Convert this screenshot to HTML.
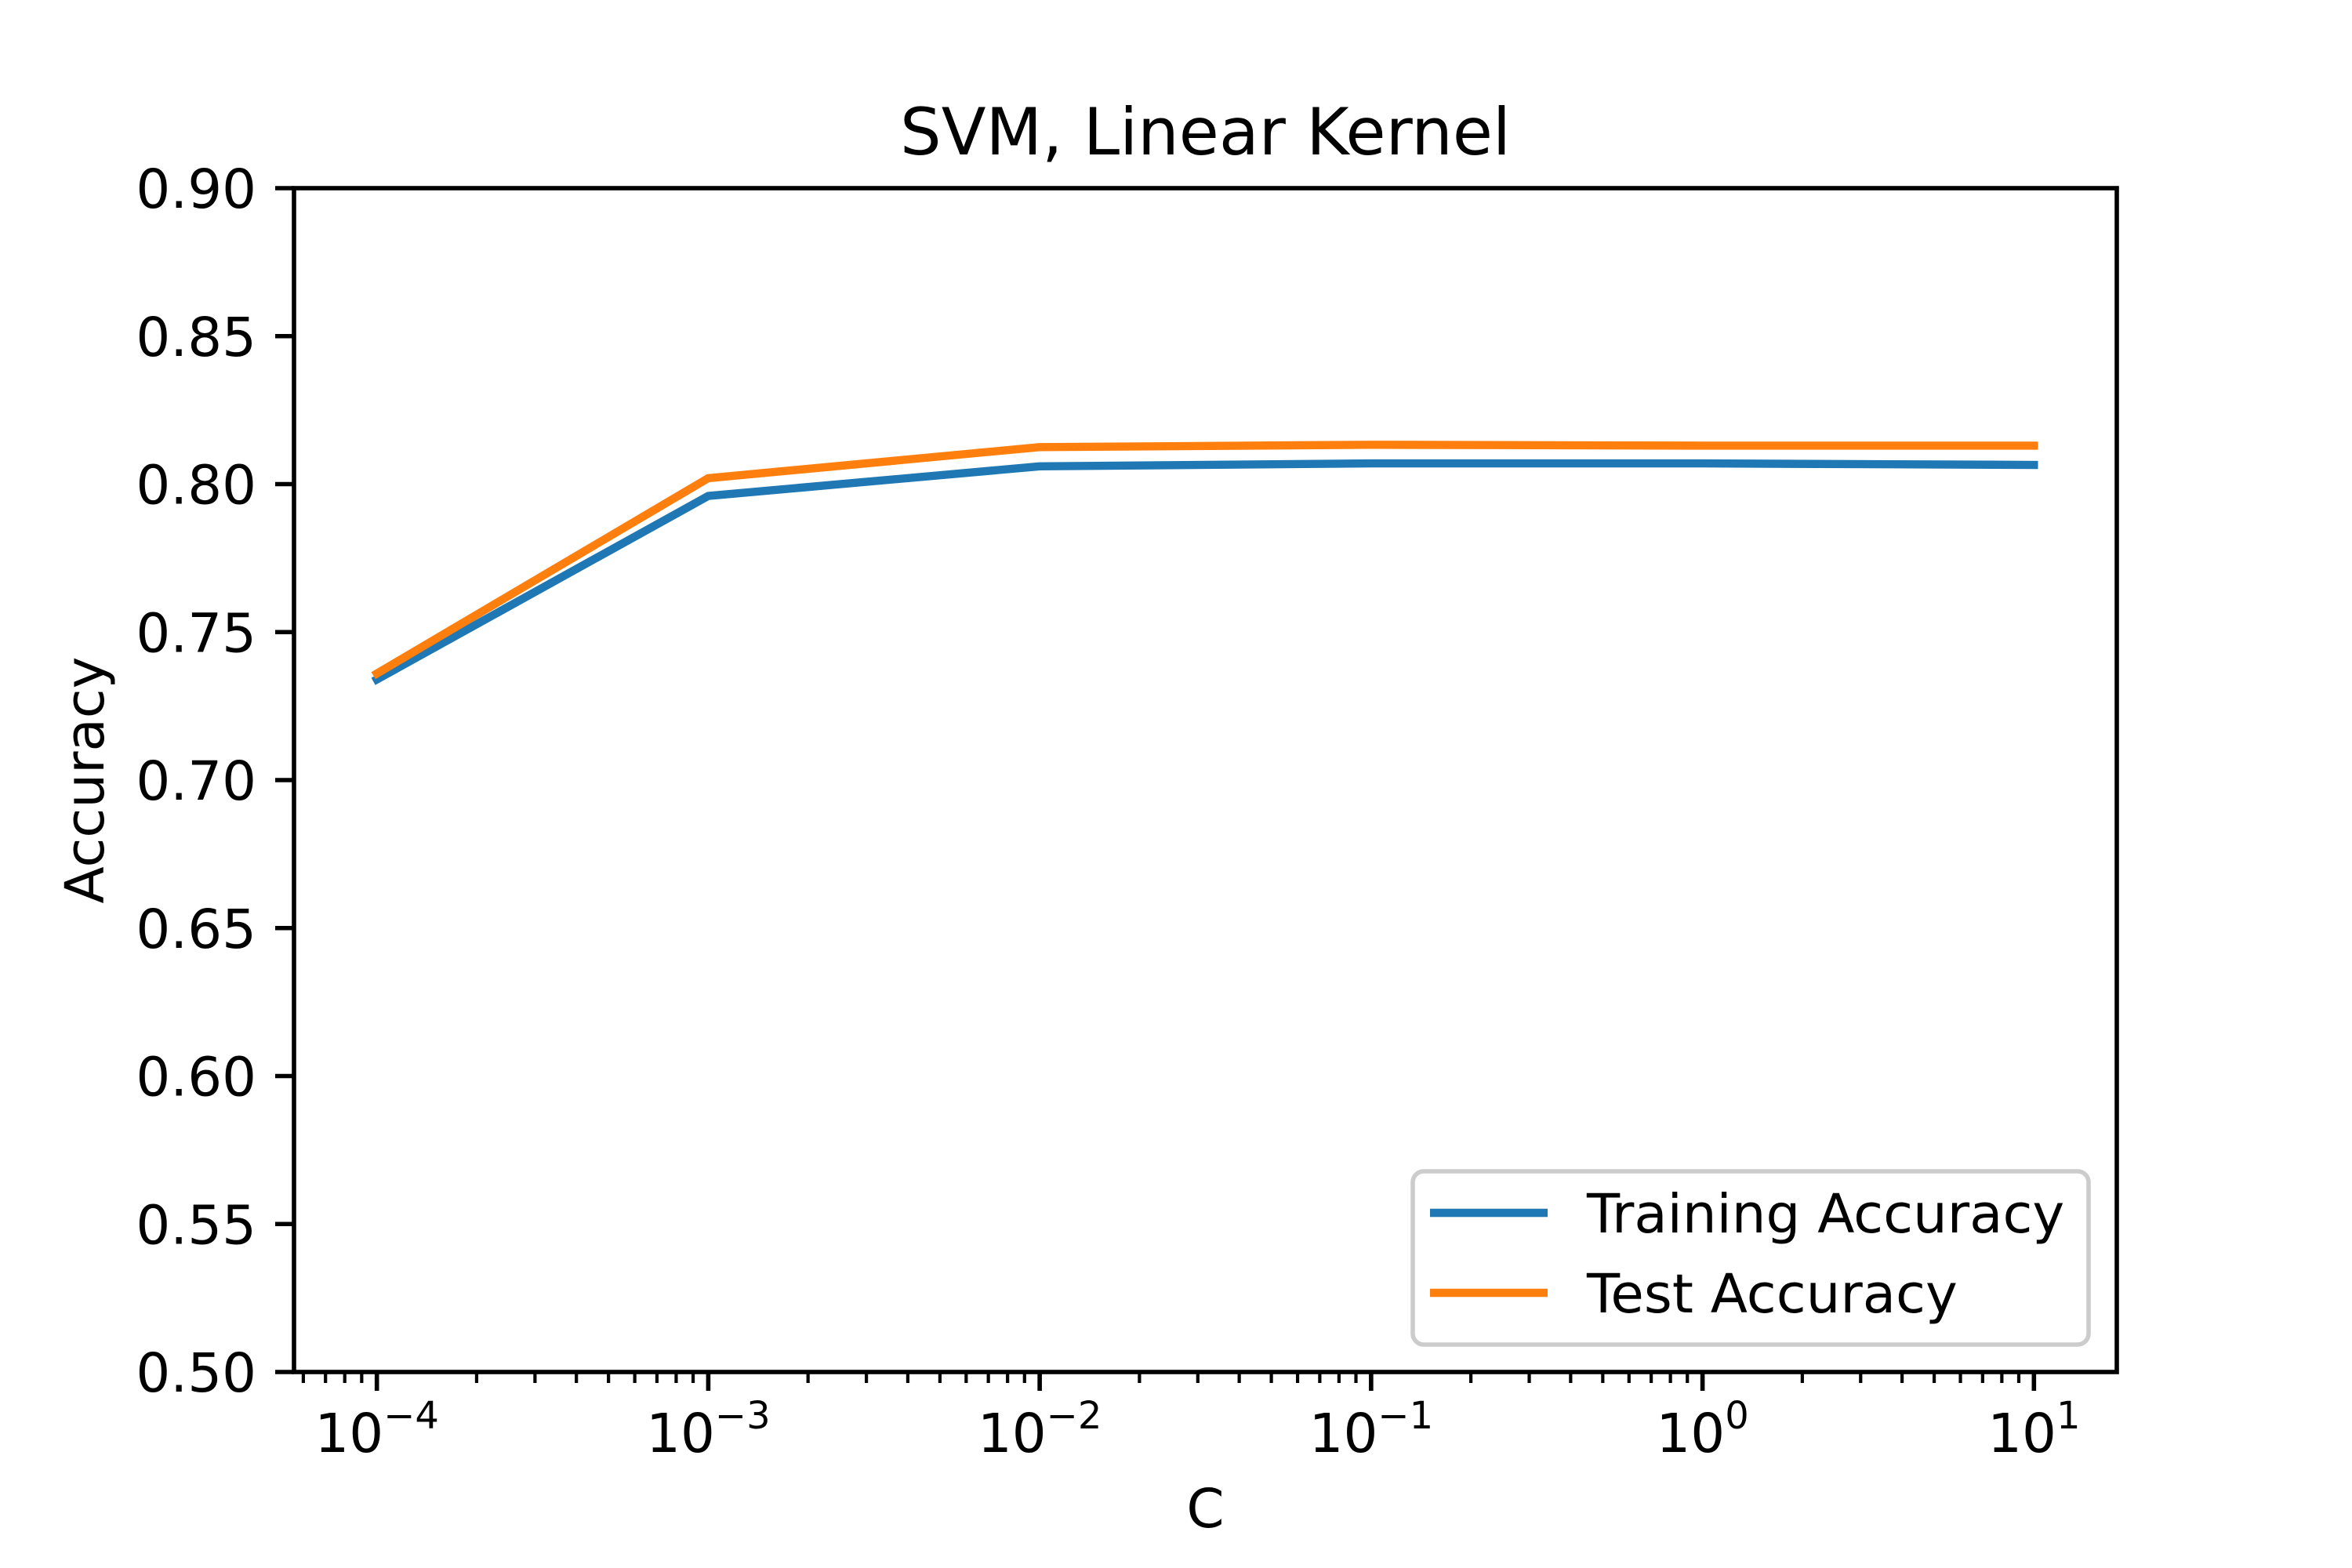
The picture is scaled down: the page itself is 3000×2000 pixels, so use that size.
<!DOCTYPE html>
<html><head><meta charset="utf-8"><style>
html,body{margin:0;padding:0;background:#fff}
svg{display:block}
text{font-family:"DejaVu Sans","Liberation Sans",sans-serif;fill:#000}
</style></head><body>
<svg id="chart" width="3000" height="2000" viewBox="0 0 3000 2000" xmlns="http://www.w3.org/2000/svg">
<rect width="3000" height="2000" fill="#fff"/>
<g id="plot"></g>
</svg>
<script>
const cValues = [-4, -3, -2, -1, 0, 1];
const trainAcc = [0.734, 0.796, 0.806, 0.807, 0.807, 0.8065];
const testAcc = [0.736, 0.802, 0.8125, 0.8133, 0.813, 0.813];
const yTicks = [0.50, 0.55, 0.60, 0.65, 0.70, 0.75, 0.80, 0.85, 0.90];
const xTickExps = [-4, -3, -2, -1, 0, 1];

const L=375, R=2700, T=240, B=1750;
const xMin=-4.25, xMax=1.25, yMin=0.5, yMax=0.9;
const NS="http://www.w3.org/2000/svg";
const g=document.getElementById('plot');
function X(lv){return L+(lv-xMin)/(xMax-xMin)*(R-L);}
function Y(v){return B-(v-yMin)/(yMax-yMin)*(B-T);}
function mk(tag,attrs,parent){const e=document.createElementNS(NS,tag);for(const k in attrs)e.setAttribute(k,attrs[k]);(parent||g).appendChild(e);return e;}

// title
let t=mk('text',{x:(L+R)/2,y:197,'text-anchor':'middle','font-size':83});
t.textContent='SVM, Linear Kernel';



// y ticks
yTicks.forEach(v=>{
  const y=Y(v);
  const tk=mk('line',{x1:L-24,x2:L,y1:y,y2:y,stroke:'#000','stroke-width':5.6});
  
  
  const lb=mk('text',{x:L-48,y:y+25,'text-anchor':'end','font-size':69});
  lb.textContent=v.toFixed(2);
  
  
});

// x minor ticks
for(let d=-5;d<=1;d++){
  for(let m=2;m<=9;m++){
    const lv=d+Math.log10(m);
    if(lv<xMin||lv>xMax)continue;
    const x=X(lv);
    const mt=mk('line',{x1:x,x2:x,y1:B,y2:B+14,stroke:'#000','stroke-width':4.2});
    
    
  }
}
// x major ticks
xTickExps.forEach(e=>{
  const x=X(e);
  const tk=mk('line',{x1:x,x2:x,y1:B,y2:B+24,stroke:'#000','stroke-width':5.6});
  
  
  const lb=mk('text',{x:x,y:1852,'text-anchor':'middle','font-size':69});
  
  
  const s1=document.createElementNS(NS,'tspan');s1.textContent='10';lb.appendChild(s1);
  const s2=document.createElementNS(NS,'tspan');
  s2.setAttribute('font-size',48);s2.setAttribute('dy',-30);
  s2.textContent=(e<0?'\u2212':'')+Math.abs(e);
  lb.appendChild(s2);
});

// series
function series(vals,color,name){
  const pts=cValues.map((c,i)=>X(c).toFixed(1)+','+Y(vals[i]).toFixed(1)).join(' ');
  const p=mk('polyline',{points:pts,fill:'none',stroke:color,'stroke-width':10.4,'stroke-linejoin':'round','stroke-linecap':'square'});
  
  
}
series(trainAcc,'#1f77b4','training-accuracy-line');
series(testAcc,'#ff7f0e','test-accuracy-line');

// frame
const fr=mk('rect',{x:L,y:T,width:R-L,height:B-T,fill:'none',stroke:'#000','stroke-width':5.6});



// axis labels
const xl=mk('text',{x:(L+R)/2,y:1948,'text-anchor':'middle','font-size':69});
xl.textContent='C';


const yl=mk('text',{x:0,y:0,'text-anchor':'middle','font-size':69,transform:'translate(132,'+((T+B)/2)+') rotate(-90)'});
yl.textContent='Accuracy';



// legend
const lg=mk('g',{});


mk('rect',{x:1802,y:1494,width:862,height:221,rx:14,fill:'#fff','fill-opacity':0.8,stroke:'#cccccc','stroke-width':5.6},lg);
[['Training Accuracy','#1f77b4',1547],['Test Accuracy','#ff7f0e',1649]].forEach(([lab,col,y])=>{
  const ln=mk('line',{x1:1824,x2:1974,y1:y,y2:y,stroke:col,'stroke-width':10.4},lg);
  
  
  const tx=mk('text',{x:2024,y:y+25,'font-size':69},lg);
  tx.textContent=lab;
  
  
});
</script>
</body></html>
